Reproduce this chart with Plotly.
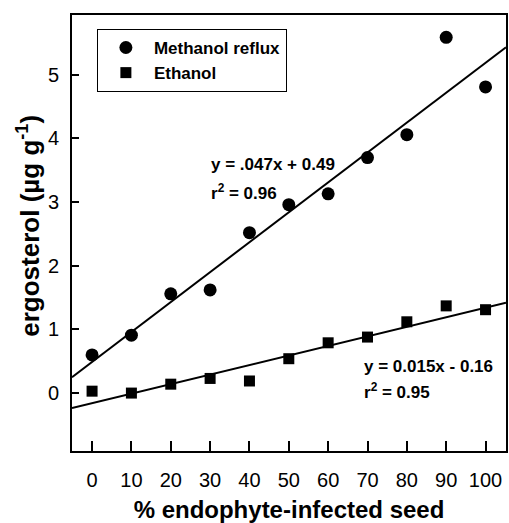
import numpy as np
import plotly.graph_objects as go

pct_infected = [0, 10, 20, 30, 40, 50, 60, 70, 80, 90, 100]
methanol = [0.60, 0.91, 1.56, 1.62, 2.52, 2.96, 3.13, 3.70, 4.06, 5.59, 4.81]
ethanol = [0.03, 0.00, 0.14, 0.23, 0.19, 0.54, 0.79, 0.88, 1.12, 1.37, 1.31]
fit_methanol = (0.047, 0.49)
fit_ethanol = (0.015, -0.16)
x_range = [-5.1, 105.2]
y_range = [-0.91, 5.94]
x_ticks = [0, 10, 20, 30, 40, 50, 60, 70, 80, 90, 100]
y_ticks = [0, 1, 2, 3, 4, 5]

FONT = "Arial, Liberation Sans, Helvetica, sans-serif"

fig = go.Figure()
fig.add_trace(go.Scatter(x=pct_infected, y=methanol, mode="markers", name="Methanol reflux",
                         marker=dict(symbol="circle", size=13, color="black")))
fig.add_trace(go.Scatter(x=pct_infected, y=ethanol, mode="markers", name="Ethanol",
                         marker=dict(symbol="square", size=11, color="black")))
for m, b in (fit_methanol, fit_ethanol):
    xs = np.array(x_range)
    fig.add_trace(go.Scatter(x=xs, y=m * xs + b, mode="lines", showlegend=False,
                             line=dict(color="black", width=2), hoverinfo="skip"))

ann_font = dict(family=FONT, size=17, color="black")
anns = [
    (210, 165, "<b>y = .047x + 0.49</b>"),
    (210, 192, "<b>r<sup>2</sup> = 0.96</b>"),
    (363, 367, "<b>y = 0.015x - 0.16</b>"),
    (363, 392, "<b>r<sup>2</sup> = 0.95</b>"),
]
L, T, W, H = 72, 15, 436, 437
for px, py, txt in anns:
    fig.add_annotation(x=(px - L) / W, y=(T + H - py) / H, xref="paper", yref="paper",
                       text=txt, showarrow=False, xanchor="left", yanchor="middle",
                       font=ann_font)

fig.add_annotation(x=(28 - L) / W, y=(T + H - 226) / H, xref="paper", yref="paper",
                   text="<b>ergosterol (µg g<sup>-1</sup>)</b>", textangle=-90, showarrow=False,
                   xanchor="center", yanchor="middle", font=dict(family=FONT, size=26, color="black"))

fig.update_layout(
    width=509, height=523,
    margin=dict(l=L, r=509 - L - W, t=T, b=523 - T - H),
    paper_bgcolor="white", plot_bgcolor="white",
    font=dict(family=FONT, color="black"),
    showlegend=True,
    legend=dict(x=(97 - L) / W, y=(T + H - 29) / H, xanchor="left", yanchor="top",
                bordercolor="black", borderwidth=1, bgcolor="white", itemwidth=46,
                font=dict(family=FONT, size=17, color="black", weight="bold")),
    xaxis=dict(range=x_range, tickvals=x_ticks, ticks="inside", ticklen=10, tickwidth=2,
               tickcolor="black", showline=True, linecolor="black", linewidth=2, mirror=True,
               showgrid=False, zeroline=False, tickfont=dict(size=20, family=FONT),
               ticklabelstandoff=10,
               title=dict(text="<b>% endophyte-infected seed</b>", font=dict(size=24, family=FONT),
                          standoff=14)),
    yaxis=dict(range=y_range, tickvals=y_ticks, ticks="inside", ticklen=7, tickwidth=2,
               tickcolor="black", showline=True, linecolor="black", linewidth=2, mirror=True,
               showgrid=False, zeroline=False, tickfont=dict(size=20, family=FONT),
               ticklabelstandoff=7),
)

fig.write_html("out.html")
